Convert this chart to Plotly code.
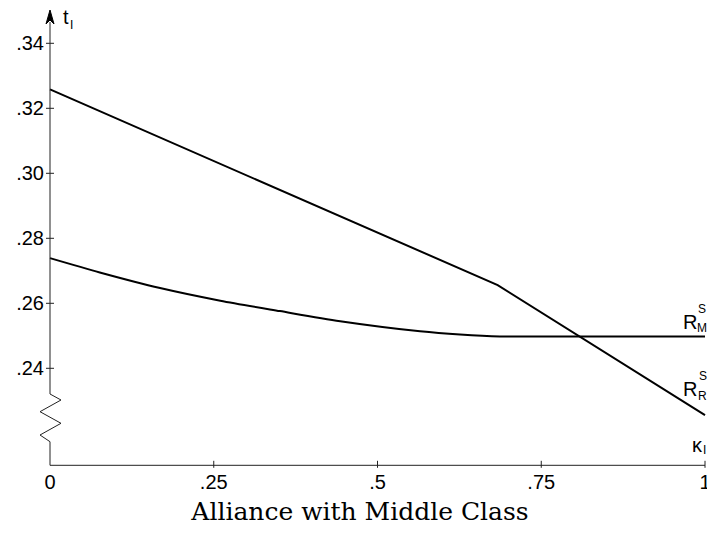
import plotly.graph_objects as go

# ---- data -------------------------------------------------------------
# R_M^S : smooth decline, then flat
kappa_m = [0.0, 0.076, 0.168, 0.26, 0.351, 0.443, 0.565, 0.626, 0.687, 0.75, 0.85, 1.0]
t_m = [0.2739, 0.2695, 0.2647, 0.2608, 0.2576, 0.2545, 0.2514, 0.2504, 0.2498, 0.2498, 0.2498, 0.2498]

# R_R^S : two straight pieces with a kink
kappa_r = [0.0, 0.6835, 1.0]
t_r = [0.3258, 0.2656, 0.2256]

x_tick_vals = [0, 0.25, 0.5, 0.75, 1]
x_tick_text = ["0", ".25", ".5", ".75", "1"]
y_tick_vals = [0.24, 0.26, 0.28, 0.30, 0.32, 0.34]
y_tick_text = [".24", ".26", ".28", ".30", ".32", ".34"]

# ---- geometry ---------------------------------------------------------
W, H = 707, 534
X0_PX, X_SCALE = 50.0, 655.0        # pixel of kappa=0, pixels per unit
Y24_PX, Y_SCALE = 368.3, 3250.0     # pixel of t=.24, pixels per unit
AXIS_Y_PX = 465.3                   # horizontal axis position
TOP_PX = 10.0                       # tip of the vertical arrow


def kx(px):
    return (px - X0_PX) / X_SCALE


def ty(py):
    return 0.24 + (Y24_PX - py) / Y_SCALE


x_range = [kx(0), kx(W)]
y_range = [ty(H), ty(0)]
t_axis = ty(AXIS_Y_PX)

fig = go.Figure()
line_style = dict(color="black", width=2)
fig.add_trace(go.Scatter(x=kappa_m, y=t_m, mode="lines", line=dict(shape="spline", smoothing=0.8, **line_style),
                         hoverinfo="skip", showlegend=False))
fig.add_trace(go.Scatter(x=kappa_r, y=t_r, mode="lines", line=line_style,
                         hoverinfo="skip", showlegend=False))

axis_col = "#222222"
shapes = []
# horizontal axis
shapes.append(dict(type="line", x0=0, x1=1, y0=t_axis, y1=t_axis, line=dict(color=axis_col, width=1)))
# vertical axis with a broken segment (zigzag) near the bottom
zig_px = [(50, 465.3), (50, 441.7), (40, 435), (61, 423.3), (40, 411.7), (61, 400), (50, 394), (50, 22)]
path = "M " + " L ".join(f"{kx(a)},{ty(b)}" for a, b in zig_px)
shapes.append(dict(type="path", path=path, line=dict(color=axis_col, width=1)))
# arrow head
ah = [(50, TOP_PX), (46, TOP_PX + 14), (50, TOP_PX + 10), (54, TOP_PX + 14)]
shapes.append(dict(type="path", path="M " + " L ".join(f"{kx(a)},{ty(b)}" for a, b in ah) + " Z",
                   fillcolor="black", line=dict(color="black", width=1)))
# tick marks crossing the axes
for v in y_tick_vals:
    shapes.append(dict(type="line", x0=kx(46), x1=kx(54), y0=v, y1=v, line=dict(color=axis_col, width=1)))
for v in x_tick_vals[1:]:
    shapes.append(dict(type="line", x0=v, x1=v, y0=ty(AXIS_Y_PX - 4.5), y1=ty(AXIS_Y_PX + 2.5),
                       line=dict(color=axis_col, width=1)))

sans = "Liberation Sans, Arial, sans-serif"
annotations = []


def label(text, px, py, size, anchor="center"):
    annotations.append(dict(x=kx(px), y=ty(py), text=text, showarrow=False, xanchor=anchor, yanchor="middle",
                            font=dict(family=sans, size=size, color="black")))


label("t", 61, 17, 20, "left")
label("I", 67.5, 24.5, 12, "left")
label("κ", 690, 445, 20, "left")
label("I", 700.5, 450, 12, "left")
label("R", 689.5, 322, 20)
label("S", 701.5, 309, 12)
label("M", 702, 328, 12)
label("R", 689.5, 389, 20)
label("S", 702.5, 376, 12)
label("R", 702, 396, 12)

fig.update_layout(
    width=W, height=H,
    margin=dict(l=0, r=0, t=0, b=0),
    paper_bgcolor="white", plot_bgcolor="white",
    shapes=shapes, annotations=annotations,
    title=dict(text="Alliance with Middle Class", x=360 / W, xanchor="center", y=1 - 511 / H, yanchor="middle",
               xref="paper", yref="container",
               font=dict(family="DejaVu Serif, Georgia, serif", size=25, color="black")),
    xaxis=dict(range=x_range, anchor="free", position=(H - AXIS_Y_PX) / H, showgrid=False, zeroline=False,
               showline=False, ticks="", tickvals=x_tick_vals, ticktext=x_tick_text, ticklabelstandoff=3,
               ticklabeloverflow="allow",
               tickfont=dict(family=sans, size=20, color="black"), automargin=False, fixedrange=True),
    yaxis=dict(range=y_range, anchor="free", position=X0_PX / W, showgrid=False, zeroline=False,
               showline=False, ticks="", tickvals=y_tick_vals, ticktext=y_tick_text, ticklabelstandoff=6,
               ticklabeloverflow="allow",
               tickfont=dict(family=sans, size=20, color="black"), automargin=False, fixedrange=True),
)

fig.write_html("out.html", config={"displayModeBar": False})
